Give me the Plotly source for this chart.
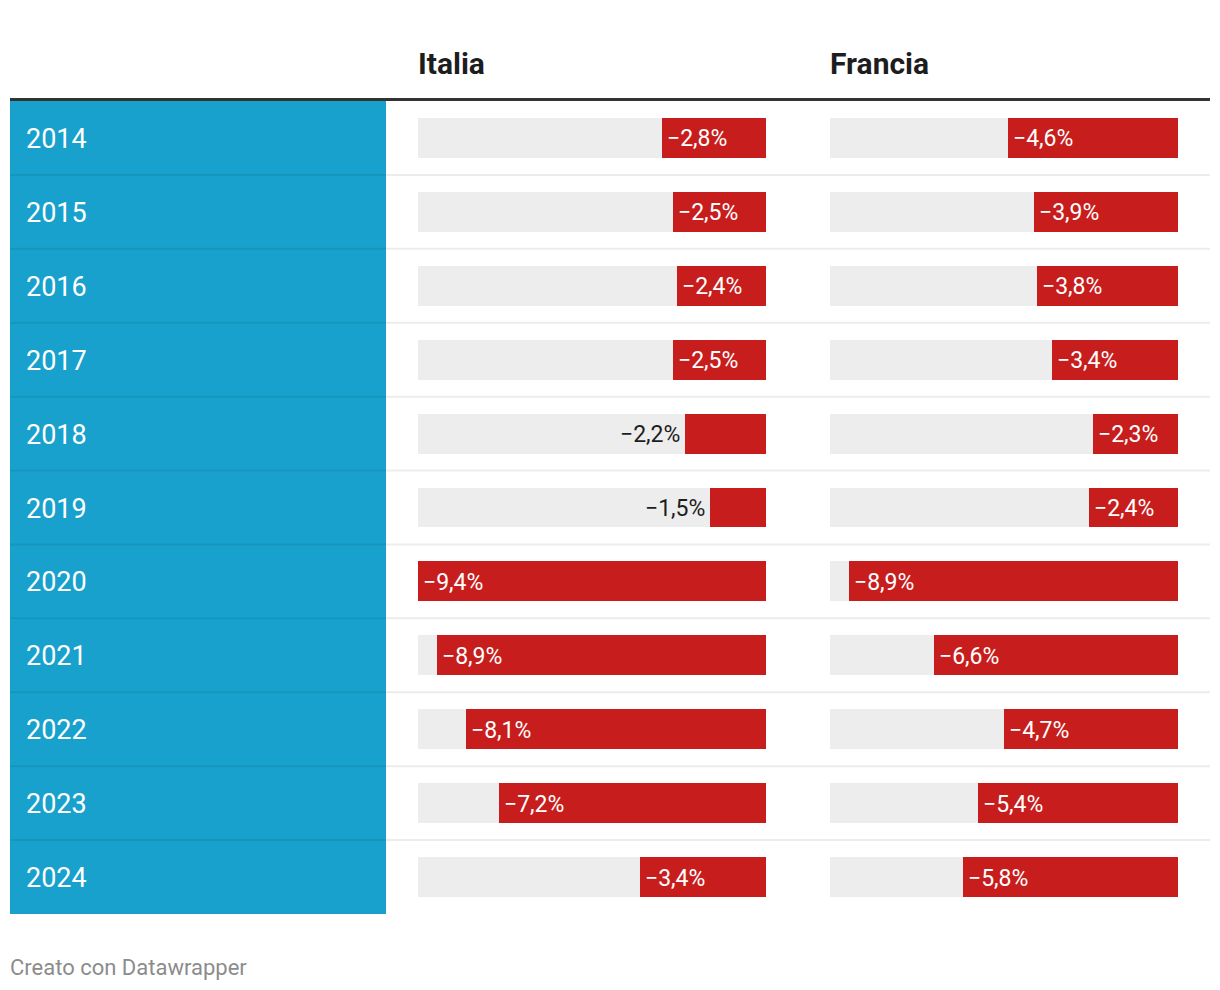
import plotly.graph_objects as go

years = ["2014", "2015", "2016", "2017", "2018", "2019", "2020", "2021", "2022", "2023", "2024"]
italia = [-2.8, -2.5, -2.4, -2.5, -2.2, -1.5, -9.4, -8.9, -8.1, -7.2, -3.4]
francia = [-4.6, -3.9, -3.8, -3.4, -2.3, -2.4, -8.9, -6.6, -4.7, -5.4, -5.8]
columns = ["Italia", "Francia"]

OFF = 8  # page body margin
W, H = 1220 - OFF, 990 - OFF
BLUE = "#18a1cd"
RED = "#c71e1d"
BG = "#ededed"
FONT = "Roboto"

vmax = max(abs(v) for v in italia + francia)


def fmt(v):
    return ("\u2212" + f"{abs(v):.1f}%").replace(".", ",")


def px(x):
    return (x - OFF) / W


def py(y):
    return 1 - (y - OFF) / H


fig = go.Figure()

y_dom = [py(914), py(101)]
x_doms = [[px(418), px(766)], [px(830), px(1178)]]
series = [italia, francia]
axes = ["x", "x2"]

annotations = []
for k, (vals, ax) in enumerate(zip(series, axes)):
    # grey background track (full scale)
    fig.add_trace(go.Bar(
        y=years, x=[-vmax] * len(years), orientation="h",
        marker=dict(color=BG, line=dict(width=0)), width=0.54,
        xaxis=ax, yaxis="y", hoverinfo="skip", showlegend=False,
    ))
    fig.add_trace(go.Bar(
        y=years, x=vals, orientation="h",
        marker=dict(color=RED, line=dict(width=0)), width=0.54,
        xaxis=ax, yaxis="y", hoverinfo="skip", showlegend=False,
    ))
    for i, v in enumerate(vals):
        inside = abs(v) >= 2.25
        annotations.append(dict(
            x=v, y=i, xref=ax, yref="y",
            text=fmt(v), showarrow=False,
            xanchor="left" if inside else "right",
            xshift=3 if inside else -3, yshift=-1,
            font=dict(family=FONT, size=23, color="white" if inside else "#1d1d1d"),
        ))
    # column header
    annotations.append(dict(
        x=x_doms[k][0], y=py(63), xref="paper", yref="paper",
        text="<b>" + columns[k] + "</b>", showarrow=False,
        xanchor="left", yanchor="middle", xshift=-2,
        font=dict(family=FONT, size=30, color="#1d1d1d"),
    ))

# year labels
for i, yr in enumerate(years):
    annotations.append(dict(
        x=px(26), y=i, xref="paper", yref="y",
        text=yr, showarrow=False, xanchor="left", yanchor="middle",
        xshift=-2, yshift=-1,
        font=dict(family=FONT, size=27, color="white"),
    ))

annotations.append(dict(
    x=px(10), y=py(967), xref="paper", yref="paper",
    text="Creato con Datawrapper", showarrow=False,
    xanchor="left", yanchor="middle", xshift=-2,
    font=dict(family=FONT, size=22, color="#8c8c8c"),
))

shapes = []
# blue first column
shapes.append(dict(type="rect", xref="paper", yref="y domain",
                   x0=px(10), x1=px(386), y0=0, y1=1,
                   fillcolor=BLUE, line=dict(width=0), layer="below"))
# row separators
for i in range(len(years) - 1):
    shapes.append(dict(type="line", xref="paper", yref="y",
                       x0=px(10), x1=px(1210), y0=i + 0.5, y1=i + 0.5,
                       line=dict(color="rgba(0,0,0,0.075)", width=2), layer="above"))
# header rule
shapes.append(dict(type="line", xref="paper", yref="paper",
                   x0=px(10), x1=px(1210), y0=py(99.5), y1=py(99.5),
                   line=dict(color="#333333", width=3)))

axis_common = dict(showgrid=False, zeroline=False, showticklabels=False,
                   showline=False, ticks="", fixedrange=True)

fig.update_layout(
    width=W, height=H,
    margin=dict(l=0, r=0, t=0, b=0),
    paper_bgcolor="white", plot_bgcolor="rgba(0,0,0,0)",
    barmode="overlay", bargap=0,
    showlegend=False,
    xaxis=dict(domain=x_doms[0], range=[-vmax, 0], **axis_common),
    xaxis2=dict(domain=x_doms[1], range=[-vmax, 0], anchor="y", **axis_common),
    yaxis=dict(domain=y_dom, type="category", categoryorder="array",
               categoryarray=years, range=[len(years) - 0.5, -0.5], **axis_common),
    annotations=annotations,
    shapes=shapes,
    font=dict(family=FONT),
)

fig.write_html("out.html", config={"displayModeBar": False})
